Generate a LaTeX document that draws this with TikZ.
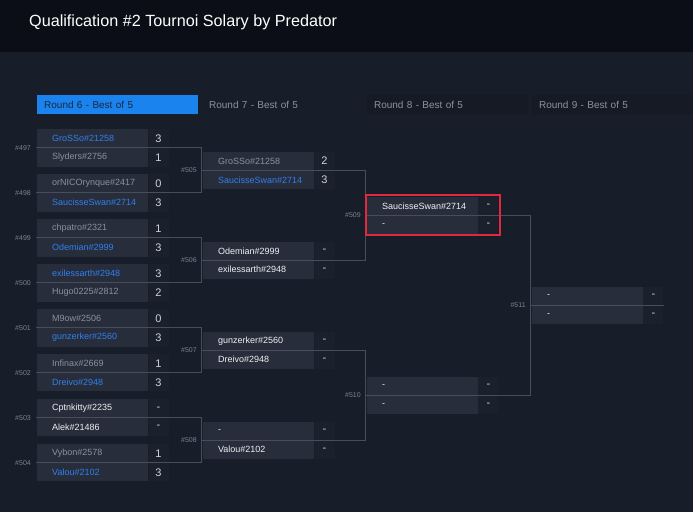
\documentclass[tikz,border=0pt]{standalone}
\usepackage{fontspec}
\setmainfont{Liberation Sans}
\usepackage{xcolor}
\usepackage{tikz}
\usetikzlibrary{positioning}

\definecolor{headbg}{HTML}{0B0E16}
\definecolor{pagebg}{HTML}{181D2A}
\definecolor{rowbg}{HTML}{282D3B}
\definecolor{scorebg}{HTML}{1B202D}
\definecolor{tabbg}{HTML}{151A25}
\definecolor{tabblue}{HTML}{1A83EE}
\definecolor{tabink}{HTML}{1B2740}
\definecolor{tabtext}{HTML}{8A92A2}
\definecolor{winblue}{HTML}{2F80EE}
\definecolor{losegray}{HTML}{8A919E}
\definecolor{opentext}{HTML}{EEF0F3}
\definecolor{scoretext}{HTML}{CDD2DB}
\definecolor{wirecol}{HTML}{474D5B}
\definecolor{tagcol}{HTML}{7A8291}
\definecolor{hired}{HTML}{E0283E}

% one match: id, x, y, top name, top style, top score, bottom name, bottom style, bottom score
\newcommand{\bracketmatch}[9]{%
  \node[namebox, #5] (m#1a) at (#2,#3) {#4};
  \node[namebox, #8] (m#1b) at (m#1a.south west) {#7};
  \node[scorebox] (m#1as) at (m#1a.north east) {#6};
  \node[scorebox] (m#1bs) at (m#1b.north east) {#9};
  \coordinate (m#1) at ([xshift=-1pt]m#1a.south west);
  \node[tag] (t#1) at ([xshift=-5pt]m#1) {\##1};
}

\begin{document}
\begin{tikzpicture}[x=1pt, y=-1pt,
  namebox/.style={anchor=north west, fill=rowbg, minimum width=111pt, minimum height=18.5pt,
    text width=81pt, inner xsep=15pt, inner ysep=0pt, align=left, font=\fontsize{9}{10}\selectfont},
  win/.style={text=winblue},
  lose/.style={text=losegray},
  open/.style={text=opentext},
  scorebox/.style={anchor=north west, fill=scorebg, minimum width=20pt, minimum height=18.5pt,
    inner sep=0pt, text=scoretext, font=\fontsize{11}{12}\selectfont},
  tag/.style={anchor=east, inner sep=0pt, text=tagcol, font=\fontsize{7}{8}\selectfont},
  tab/.style={anchor=north west, minimum width=161pt, minimum height=19pt, text width=147pt,
    inner xsep=7pt, inner ysep=0pt, align=left, text=tabtext, font=\fontsize{10}{11}\selectfont},
  wire/.style={draw=wirecol, line width=1pt},
  hilite/.style={draw=hired, line width=2pt}]

% Page and header
\fill[pagebg] (0,0) rectangle (693,512);
\fill[headbg] (0,0) rectangle (693,52);
\node[anchor=west, inner sep=0pt, text=white, font=\fontsize{16.2}{18}\selectfont] (title) at (29,22.5) {Qualification \#2 Tournoi Solary by Predator};

% Round tabs
\node[tab, fill=tabblue, text=tabink] (r6) at (37,95) {Round 6 - Best of 5};
\node[tab] (r7) at (202,95) {Round 7 - Best of 5};
\node[tab, fill=tabbg] (r8) at (367,95) {Round 8 - Best of 5};
\node[tab, fill=tabbg] (r9) at (532,95) {Round 9 - Best of 5};

% Round 6
\bracketmatch{497}{37}{129}{GroSSo\#21258}{win}{3}{Slyders\#2756}{lose}{1}
\bracketmatch{498}{37}{174}{orNICOrynque\#2417}{lose}{0}{SaucisseSwan\#2714}{win}{3}
\bracketmatch{499}{37}{219}{chpatro\#2321}{lose}{1}{Odemian\#2999}{win}{3}
\bracketmatch{500}{37}{264}{exilessarth\#2948}{win}{3}{Hugo0225\#2812}{lose}{2}
\bracketmatch{501}{37}{309}{M9ow\#2506}{lose}{0}{gunzerker\#2560}{win}{3}
\bracketmatch{502}{37}{354}{Infinax\#2669}{lose}{1}{Dreivo\#2948}{win}{3}
\bracketmatch{503}{37}{399}{Cptnkitty\#2235}{open}{-}{Alek\#21486}{open}{-}
\bracketmatch{504}{37}{444}{Vybon\#2578}{lose}{1}{Valou\#2102}{win}{3}

% Round 7
\bracketmatch{505}{203}{151.5}{GroSSo\#21258}{lose}{2}{SaucisseSwan\#2714}{win}{3}
\bracketmatch{506}{203}{241.5}{Odemian\#2999}{open}{-}{exilessarth\#2948}{open}{-}
\bracketmatch{507}{203}{331.5}{gunzerker\#2560}{open}{-}{Dreivo\#2948}{open}{-}
\bracketmatch{508}{203}{421.5}{-}{open}{-}{Valou\#2102}{open}{-}

% Round 8
\bracketmatch{509}{367}{196.5}{SaucisseSwan\#2714}{open}{-}{-}{open}{-}
\bracketmatch{510}{367}{376.5}{-}{open}{-}{-}{open}{-}

% Round 9
\bracketmatch{511}{532}{286.5}{-}{open}{-}{-}{open}{-}

% Connectors
\draw[wire] (m497) -| (m505);
\draw[wire] (m498) -| (m505);
\draw[wire] (m499) -| (m506);
\draw[wire] (m500) -| (m506);
\draw[wire] (m501) -| (m507);
\draw[wire] (m502) -| (m507);
\draw[wire] (m503) -| (m508);
\draw[wire] (m504) -| (m508);
\draw[wire] (m505) -| (m509);
\draw[wire] (m506) -| (m509);
\draw[wire] (m507) -| (m510);
\draw[wire] (m508) -| (m510);
\draw[wire] (m509) -| (m511);
\draw[wire] (m510) -| (m511);
\draw[wire] (m511) -- (m511as.south east);

% Highlighted match
\draw[hilite] ([shift={(-1pt,1pt)}]m509a.north west) rectangle ([shift={(1pt,-1pt)}]m509bs.south east);
\end{tikzpicture}
\end{document}
